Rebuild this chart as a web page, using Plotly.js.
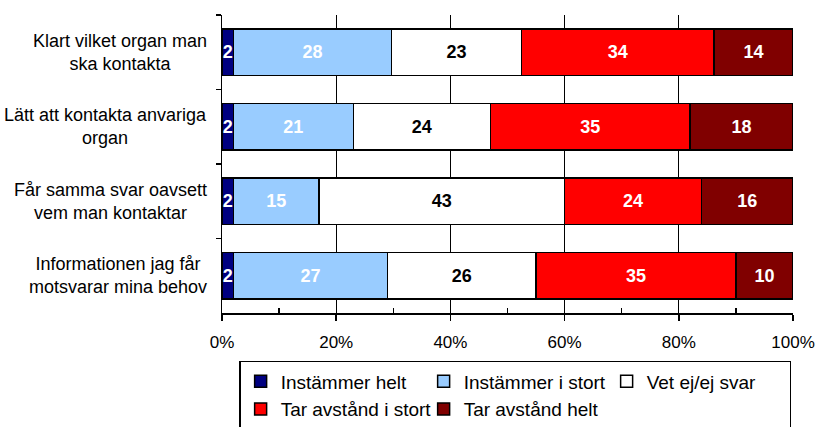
<!DOCTYPE html>
<html>
<head>
<meta charset="utf-8">
<script src="https://cdn.plot.ly/plotly-3.0.1.min.js"></script>
<style>html,body{margin:0;padding:0;background:#fff}#chart{width:818px;height:427px}</style>
</head>
<body>
<div id="chart"></div>
<script>
var categories = [
  "Klart vilket organ man<br>ska kontakta",
  "Lätt att kontakta anvariga<br>organ",
  "Får samma svar oavsett<br>vem man kontaktar",
  "Informationen jag får<br>motsvarar mina behov"
];
var seriesNames = ["Instämmer helt", "Instämmer i stort", "Vet ej/ej svar", "Tar avstånd i stort", "Tar avstånd helt"];
var instammerHelt = [2, 2, 2, 2];
var instammerIStort = [28, 21, 15, 27];
var vetEj = [23, 24, 43, 26];
var tarAvstandIStort = [34, 35, 24, 35];
var tarAvstandHelt = [14, 18, 16, 10];
var xTickVals = [0, 20, 40, 60, 80, 100];
var xTickText = ["0%", "20%", "40%", "60%", "80%", "100%"];
var xMinorVals = [10, 30, 50, 70, 90];

var seriesValues = [instammerHelt, instammerIStort, vetEj, tarAvstandIStort, tarAvstandHelt];
var colors = ["#000080", "#99CCFF", "#FFFFFF", "#FF0000", "#800000"];
var textColors = ["#FFFFFF", "#FFFFFF", "#000000", "#FFFFFF", "#FFFFFF"];
var FONT = "Liberation Sans, Arial, sans-serif";

var traces = seriesValues.map(function (vals, i) {
  return {
    type: "bar",
    orientation: "h",
    name: seriesNames[i],
    y: categories,
    x: vals,
    text: vals.map(String),
    texttemplate: "%{text}",
    textposition: "inside",
    insidetextanchor: "middle",
    constraintext: "none",
    textangle: 0,
    insidetextfont: {family: FONT, size: 18, color: textColors[i], weight: "bold"},
    marker: {color: colors[i], line: {color: "#000000", width: 1.5}},
    hoverinfo: "skip"
  };
});

var annotations = categories.map(function (c) {
  return {
    xref: "paper", yref: "y", x: 0, y: c, xanchor: "right", xshift: -13,
    text: c, showarrow: false, align: "center",
    font: {family: FONT, size: 18, color: "#000000"}
  };
});

var layout = {
  width: 818, height: 427,
  margin: {l: 222, r: 25, t: 15, b: 114, autoexpand: false},
  paper_bgcolor: "#FFFFFF", plot_bgcolor: "#FFFFFF",
  barmode: "stack",
  barnorm: "percent",
  bargap: 0.38,
  showlegend: true,
  font: {family: FONT, size: 17, color: "#000000"},
  xaxis: {
    range: [0, 100], tickvals: xTickVals, ticktext: xTickText,
    showgrid: true, gridcolor: "#000000", gridwidth: 1,
    zeroline: false, showline: true, linecolor: "#000000", linewidth: 1.5,
    ticks: "outside", ticklen: 6, tickcolor: "#000000", tickwidth: 1.5,
    ticklabelstandoff: 7,
    minor: {tickvals: xMinorVals, ticks: "inside", ticklen: 5, tickcolor: "#000000", tickwidth: 1.5, showgrid: false},
    tickfont: {size: 17}, fixedrange: true
  },
  yaxis: {
    autorange: "reversed", type: "category",
    showticklabels: false, ticks: "outside", tickson: "boundaries", ticklen: 5, tickcolor: "#000000", tickwidth: 1.5,
    showline: true, linecolor: "#000000", linewidth: 1.5, showgrid: false, zeroline: false, fixedrange: true
  },
  legend: {
    orientation: "h", x: 0.03, xanchor: "left", y: -0.161, yanchor: "top",
    bordercolor: "#000000", borderwidth: 1.5, bgcolor: "#FFFFFF",
    entrywidth: 138, entrywidthmode: "pixels",
    font: {size: 19}, traceorder: "normal", itemclick: false, itemdoubleclick: false
  },
  annotations: annotations
};

Plotly.newPlot("chart", traces, layout, {displayModeBar: false, staticPlot: true});
</script>
</body>
</html>
